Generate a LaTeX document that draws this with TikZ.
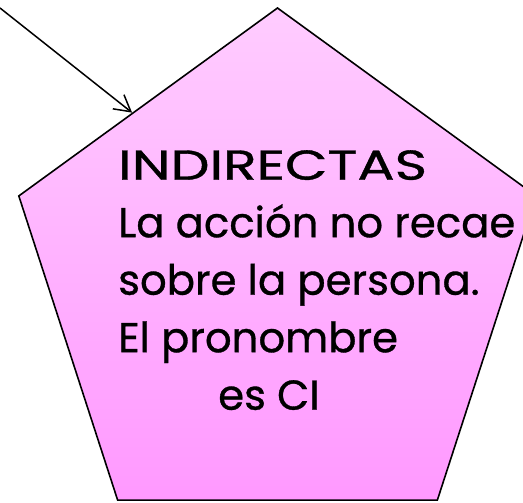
\documentclass[tikz,border=0pt]{standalone}
\usepackage{fontspec}
\setmainfont{Poppins}
\newfontfamily\handfont{Poppins}[FakeBold=0.8]
\usetikzlibrary{arrows.meta, positioning, shapes.geometric, calc}
\definecolor{pinktop}{HTML}{FFCCFF}
\definecolor{pinkbot}{HTML}{FF99FF}
\tikzset{
    pentabox/.style={
        regular polygon, regular polygon sides=5,
        draw=black, line width=1.6pt,
        top color=pinktop, bottom color=pinkbot,
        minimum size=544pt, inner sep=0pt
    },
    textblock/.style={
        font=\handfont\fontsize{41.8}{57.5}\selectfont,
        align=left, inner sep=0pt, anchor=north west
    },
    arrow/.style={-{Straight Barb[length=16pt, width=18pt]}, line width=1.5pt, draw=black}
}
\begin{document}
\begin{tikzpicture}[x=1pt, y=1pt]
    \clip (0,0) rectangle (523,-503);
    \node[pentabox] (ind) at (277.5,-280) {};
    \node[textblock] (txt) at (118,-150) {\scalebox{1.32}[1]{INDIRECTAS}\\La acción no recae\\sobre la persona.\\El pronombre\\\hspace*{100pt}es CI};
    \coordinate (src) at (0,-8);
    \draw[arrow] (src) -- ($(ind.corner 1)!0.56!(ind.corner 2)$);
\end{tikzpicture}
\end{document}
